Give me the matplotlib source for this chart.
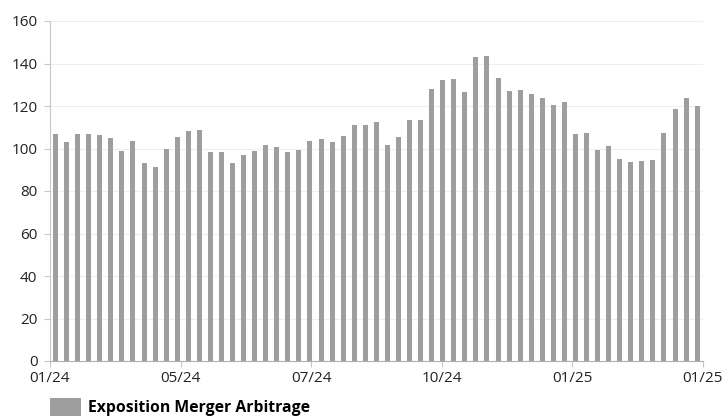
import numpy as np
import matplotlib
matplotlib.use("Agg")
import matplotlib.pyplot as plt
from matplotlib.patches import Patch

plt.rcParams['font.family'] = ['Open Sans', 'DejaVu Sans']

# weekly exposure values
exposure = [
    107, 103, 107, 107, 106.5, 105, 98.7, 103.5, 93.2, 91.2,
    99.8, 105.5, 108.2, 108.8, 98.3, 98.3, 93.2, 97, 98.7, 101.7,
    100.6, 98.3, 99.2, 103.5, 104.4, 103, 105.8, 111, 111, 112.4,
    101.6, 105.3, 113.3, 113.3, 127.9, 132.2, 132.6, 126.5, 143.1, 143.5,
    133, 127.1, 127.5, 125.6, 123.9, 120.5, 121.9, 106.7, 107.2, 99.2,
    101.1, 95, 93.6, 94, 94.5, 107.2, 118.6, 123.8, 120.2,
]
tick_labels = ["01/24", "05/24", "07/24", "10/24", "01/25", "01/25"]
y_ticks = [0, 20, 40, 60, 80, 100, 120, 140, 160]
series_name = "Exposition Merger Arbitrage"

bar_color = "#9e9e9e"
axis_color = "#c8c8c8"
text_color = "#222222"

n = len(exposure)
x = np.arange(n)

fig = plt.figure(figsize=(7.25, 4.16), dpi=100)
ax = fig.add_axes([50 / 725, 55 / 416, 652.7 / 725, 340 / 416])

ax.bar(x, exposure, width=0.45, color=bar_color, zorder=2)

ax.set_xlim(-0.5, n - 0.5)
ax.set_ylim(0, 160)

# evenly spaced time ticks across the whole span
tick_pos = np.linspace(-0.5, n - 0.5, len(tick_labels))
ax.set_xticks(tick_pos)
ax.set_xticklabels(tick_labels)
ax.set_yticks(y_ticks)

ax.grid(axis="y", color="#efefef", linewidth=0.8, zorder=0)
ax.set_axisbelow(True)

for side in ["top", "right"]:
    ax.spines[side].set_visible(False)
ax.spines["left"].set_color(axis_color)
ax.spines["bottom"].set_color("#b0b0b0")
ax.tick_params(axis="both", colors=axis_color, labelcolor=text_color,
               labelsize=11, length=4, width=0.8)
ax.tick_params(axis="x", pad=3)
ax.tick_params(axis="y", pad=5)

handle = Patch(facecolor=bar_color, edgecolor="none", label=series_name)
fig.legend(handles=[handle], loc="center left", bbox_to_anchor=(50 / 725, 9 / 416),
           frameon=False, borderpad=0, borderaxespad=0,
           handlelength=1.95, handleheight=1.45, handletextpad=0.45,
           prop={"weight": "bold", "size": 11.3})

fig.savefig("out.png", dpi=100)
